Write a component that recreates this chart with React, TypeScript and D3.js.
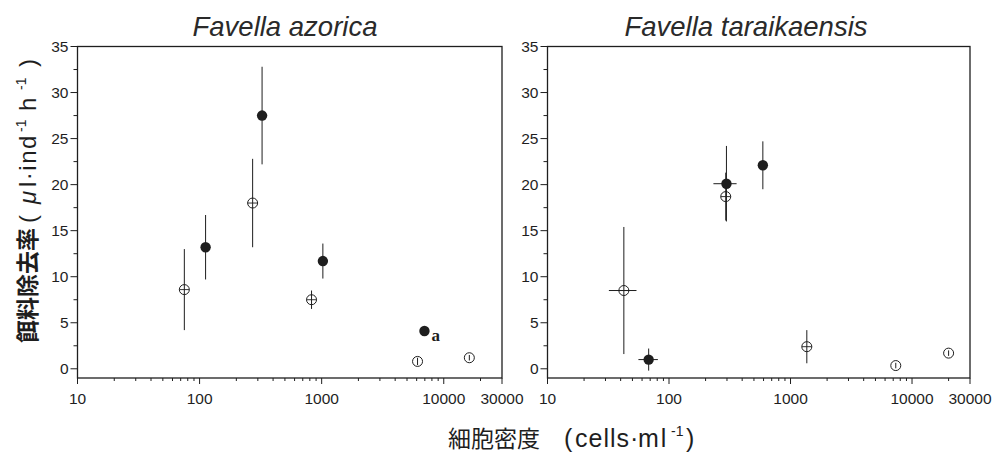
import * as d3 from 'd3'

const W = 994
const H = 455

const xTicks = [10, 100, 1000, 10000, 30000]
const yTicks = [0, 5, 10, 15, 20, 25, 30, 35]

// Favella azorica
const azoOpenX = [75, 272, 826, 6100, 16200]
const azoOpenY = [8.6, 18.0, 7.5, 0.8, 1.2]
const azoOpenErr = [4.4, 4.8, 1.0, 0.4, 0.3]
const azoFillX = [112, 325, 1023, 6950]
const azoFillY = [13.2, 27.5, 11.7, 4.1]
const azoFillErr = [3.5, 5.3, 1.9, 0]

// Favella taraikaensis
const tarOpenX = [42.5, 293, 1362, 7350, 20000]
const tarOpenY = [8.5, 18.7, 2.4, 0.35, 1.7]
const tarOpenErr = [6.9, 2.6, 1.8, 0.3, 0.3]
const tarOpenXLo = [32, null, null, null, null]
const tarOpenXHi = [54, null, null, null, null]
const tarFillX = [68, 297, 592]
const tarFillY = [1.0, 20.1, 22.1]
const tarFillErr = [1.2, 4.1, 2.6]
const tarFillXLo = [56, 232, null]
const tarFillXHi = [81, 360, null]

const ink = '#1e1e1e'
const sans = "'Liberation Sans', Arial, Helvetica, sans-serif"
const cjk = "'Noto Sans CJK JP', 'Noto Sans CJK SC', sans-serif"

type PanelProps = {
  left: number
  right: number
  title: string
  titleX: number
  openX: number[]
  openY: number[]
  openErr: number[]
  openXLo?: (number | null)[]
  openXHi?: (number | null)[]
  fillX: number[]
  fillY: number[]
  fillErr: number[]
  fillXLo?: (number | null)[]
  fillXHi?: (number | null)[]
  note?: string
  noteIdx?: number
}

const TOP = 46.5
const BOTTOM = 378

const Panel = (p: PanelProps) => {
  const x = d3.scaleLog().domain([10, 30000]).range([p.left, p.right])
  const y = d3.scaleLinear().domain([-1, 35]).range([BOTTOM, TOP])

  const minorX: number[] = []
  ;[10, 100, 1000, 10000].forEach(d => {
    for (let k = 2; k <= 9; k++) if (k * d < 30000) minorX.push(k * d)
  })
  const minorY = d3.range(2.5, 35, 5)

  return (
    <g>
      <text x={p.titleX} y={36} textAnchor="middle" fontFamily={sans}
        fontStyle="italic" fontSize={27.5} fill="#2a2a2a">{p.title}</text>
      <rect x={p.left} y={TOP} width={p.right - p.left} height={BOTTOM - TOP}
        fill="none" stroke={ink} strokeWidth={1.3} />
      {yTicks.map(t => (
        <g key={'y' + t}>
          <line x1={p.left - 7} x2={p.left} y1={y(t)} y2={y(t)} stroke={ink} />
          <text x={p.left - 9} y={y(t) + 5.5} textAnchor="end" fontFamily={sans}
            fontSize={15.5} fill={ink}>{t}</text>
        </g>
      ))}
      {minorY.map(t => (
        <line key={'my' + t} x1={p.left - 4} x2={p.left} y1={y(t)} y2={y(t)} stroke={ink} />
      ))}
      {xTicks.map(t => (
        <g key={'x' + t}>
          <line x1={x(t)} x2={x(t)} y1={BOTTOM} y2={BOTTOM + 6} stroke={ink} />
          <text x={x(t)} y={BOTTOM + 26} textAnchor="middle" fontFamily={sans}
            fontSize={15.5} fill={ink}>{t}</text>
        </g>
      ))}
      {minorX.map(t => (
        <line key={'mx' + t} x1={x(t)} x2={x(t)} y1={BOTTOM} y2={BOTTOM + 3} stroke={ink} />
      ))}
      {p.openX.map((v, i) => {
        const cx = x(v)
        const cy = y(p.openY[i])
        const e = p.openErr[i]
        const lo = p.openXLo?.[i]
        const hi = p.openXHi?.[i]
        return (
          <g key={'o' + i} stroke={ink} fill="none">
            <line x1={cx} x2={cx} y1={y(p.openY[i] - e)} y2={y(p.openY[i] + e)} strokeWidth={1} />
            {lo != null && hi != null && (
              <line x1={x(lo)} x2={x(hi)} y1={cy} y2={cy} strokeWidth={1} />
            )}
            <circle cx={cx} cy={cy} r={5} strokeWidth={1} />
            {e > 0.5 && <line x1={cx - 5} x2={cx + 5} y1={cy} y2={cy} strokeWidth={0.9} />}
          </g>
        )
      })}
      {p.fillX.map((v, i) => {
        const cx = x(v)
        const cy = y(p.fillY[i])
        const e = p.fillErr[i]
        const lo = p.fillXLo?.[i]
        const hi = p.fillXHi?.[i]
        return (
          <g key={'f' + i} stroke={ink}>
            {e > 0 && <line x1={cx} x2={cx} y1={y(p.fillY[i] - e)} y2={y(p.fillY[i] + e)} strokeWidth={1} />}
            {lo != null && hi != null && (
              <line x1={x(lo)} x2={x(hi)} y1={cy} y2={cy} strokeWidth={1} />
            )}
            <circle cx={cx} cy={cy} r={5.2} fill={ink} stroke="none" />
          </g>
        )
      })}
      {p.note && p.noteIdx != null && (
        <text x={x(p.fillX[p.noteIdx]) + 7} y={y(p.fillY[p.noteIdx]) + 10}
          fontFamily="'Liberation Serif', 'DejaVu Serif', serif" fontWeight="bold"
          fontSize={17} fill={ink}>{p.note}</text>
      )}
    </g>
  )
}

export default function App() {
  return (
    <svg width={W} height={H} style={{ position: 'absolute', left: 0, top: 0, background: '#fff' }}>
      <rect width={W} height={H} fill="#fff" />
      <Panel left={77.5} right={502} title="Favella azorica" titleX={285}
        openX={azoOpenX} openY={azoOpenY} openErr={azoOpenErr}
        fillX={azoFillX} fillY={azoFillY} fillErr={azoFillErr}
        note="a" noteIdx={3} />
      <Panel left={547.5} right={970} title="Favella taraikaensis" titleX={746}
        openX={tarOpenX} openY={tarOpenY} openErr={tarOpenErr}
        openXLo={tarOpenXLo} openXHi={tarOpenXHi}
        fillX={tarFillX} fillY={tarFillY} fillErr={tarFillErr}
        fillXLo={tarFillXLo} fillXHi={tarFillXHi} />
      <g transform="translate(36, 343) rotate(-90)" fill={ink}>
        <text x={0} y={0} fontFamily={cjk} fontSize={23} fontWeight="bold">餌料除去率</text>
        <text y={0} fontFamily={sans} fontSize={24}>
          <tspan x={120}>(</tspan>
          <tspan x={139} fontStyle="italic">μ</tspan>
          <tspan x={156} letterSpacing={1.5}>l·ind</tspan>
          <tspan x={211} fontSize={14} dy={-10}>-1</tspan>
          <tspan x={232} dy={10}>h</tspan>
          <tspan x={253} fontSize={14} dy={-10}>-1</tspan>
          <tspan x={276} dy={10}>)</tspan>
        </text>
      </g>
      <g fill={ink}>
        <text x={448} y={447} fontFamily={cjk} fontSize={23}>細胞密度</text>
        <text y={447} fontFamily={sans} fontSize={25}>
          <tspan x={564}>(</tspan>
          <tspan x={575} letterSpacing={1}>cells</tspan>
          <tspan x={630}>·</tspan>
          <tspan x={638} letterSpacing={2}>ml</tspan>
          <tspan x={671} fontSize={14} dy={-11}>-1</tspan>
          <tspan x={686} dy={11}>)</tspan>
        </text>
      </g>
    </svg>
  )
}
